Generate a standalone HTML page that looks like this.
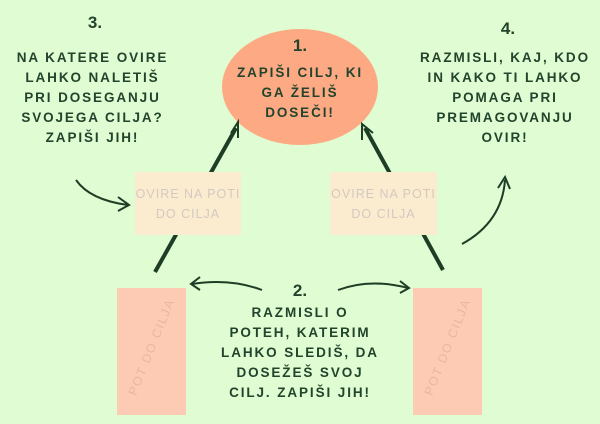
<!DOCTYPE html>
<html><head><meta charset="utf-8"><style>
body{margin:0;width:600px;height:424px;background:#e0fcd2;position:relative;overflow:hidden;font-family:"Liberation Sans",sans-serif;}
.t{position:absolute;color:#22432c;font-weight:bold;font-size:13.5px;letter-spacing:1.9px;text-align:center;line-height:20px;white-space:nowrap;}
.n{position:absolute;color:#22432c;font-weight:bold;font-size:17px;text-align:center;}
.box{position:absolute;background:#fbecd0;color:#d3c9c0;font-size:12.5px;letter-spacing:1px;text-align:center;line-height:20px;white-space:nowrap;}
.pink{position:absolute;background:#fdcbb4;}
.pl{position:absolute;color:#e9b6a2;font-size:12.5px;letter-spacing:1.5px;white-space:nowrap;transform:rotate(-68deg);}
</style></head><body>
<svg width="600" height="424" style="position:absolute;left:0;top:0">
<ellipse cx="300" cy="87" rx="78" ry="58" fill="#fdaa84"/>
<g stroke="#1e3d25" fill="none" stroke-width="2">
<path d="M155 272 L236 128" stroke-width="4"/>
<path d="M231 133 L238 122 L238 138" />
<path d="M443 270 L365 128" stroke-width="4"/>
<path d="M362 140 L362 124 L373 133"/>
<path d="M76 180 Q90 200 128 205"/>
<path d="M118 197 L129 205 L118 211"/>
<path d="M462 244 Q502 222 505 180"/>
<path d="M498 188 L505 177 L510 189"/>
<path d="M262 290 Q230 278 192 284"/>
<path d="M200 277 L191 284 L200 290"/>
<path d="M338 290 Q370 278 408 288"/>
<path d="M400 281 L409 288 L400 293"/>
</g>
</svg>
<div class="n" style="left:80px;top:13px;width:30px">3.</div>
<div class="n" style="left:493px;top:19px;width:30px">4.</div>
<div class="n" style="left:285px;top:36px;width:30px">1.</div>
<div class="n" style="left:285px;top:281px;width:30px">2.</div>
<div class="t" style="left:0;top:48px;width:185px">NA KATERE OVIRE<br>LAHKO NALETIŠ<br>PRI DOSEGANJU<br>SVOJEGA CILJA?<br>ZAPIŠI JIH!</div>
<div class="t" style="left:410px;top:48px;width:190px">RAZMISLI, KAJ, KDO<br>IN KAKO TI LAHKO<br>POMAGA PRI<br>PREMAGOVANJU<br>OVIR!</div>
<div class="t" style="left:222px;top:63px;width:156px">ZAPIŠI CILJ, KI<br>GA ŽELIŠ<br>DOSEČI!</div>
<div class="t" style="left:200px;top:303px;width:200px">RAZMISLI O<br>POTEH, KATERIM<br>LAHKO SLEDIŠ, DA<br>DOSEŽEŠ SVOJ<br>CILJ. ZAPIŠI JIH!</div>
<div class="box" style="left:135px;top:172px;width:106px;height:63px;padding-top:12px;box-sizing:border-box">OVIRE NA POTI<br>DO CILJA</div>
<div class="box" style="left:330px;top:172px;width:107px;height:63px;padding-top:12px;box-sizing:border-box">OVIRE NA POTI<br>DO CILJA</div>
<div class="pink" style="left:117px;top:288px;width:69px;height:127px"></div>
<div class="pink" style="left:413px;top:288px;width:69px;height:127px"></div>
<div class="pl" style="left:100px;top:340px">POT DO CILJA</div>
<div class="pl" style="left:396px;top:340px">POT DO CILJA</div>
</body></html>
